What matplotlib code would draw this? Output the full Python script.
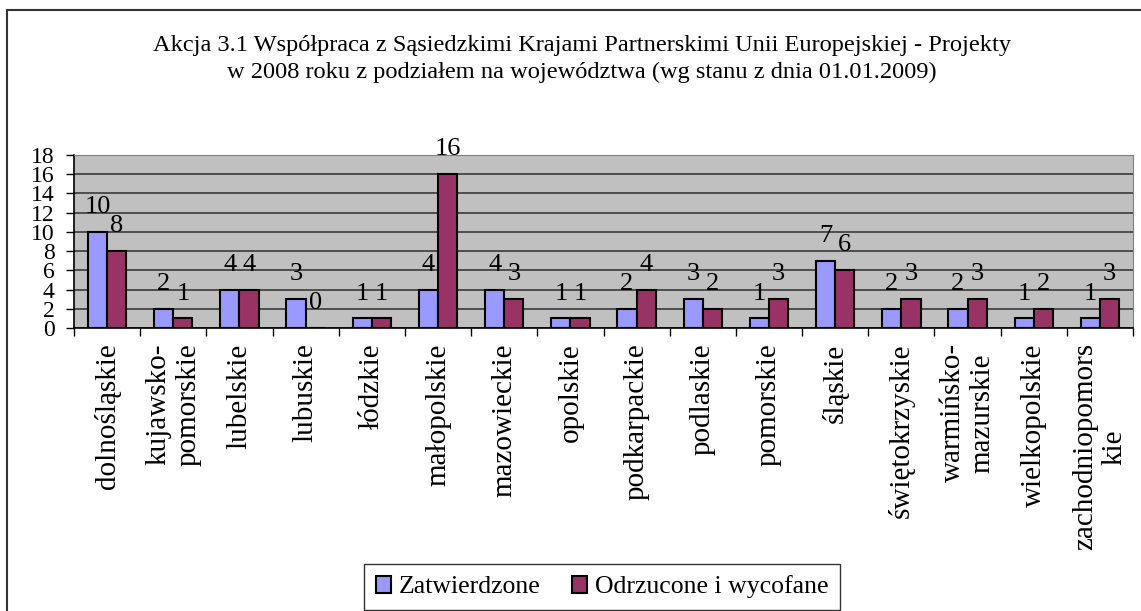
import matplotlib.pyplot as plt
import numpy as np
from matplotlib.lines import Line2D

plt.rcParams['font.family'] = ['Liberation Serif', 'DejaVu Serif']

# data
wojewodztwa = ['dolnośląskie', 'kujawsko-\npomorskie', 'lubelskie', 'lubuskie',
               'łódzkie', 'małopolskie', 'mazowieckie', 'opolskie',
               'podkarpackie', 'podlaskie', 'pomorskie', 'śląskie',
               'świętokrzyskie', 'warmińsko-\nmazurskie', 'wielkopolskie',
               'zachodniopomors\nkie']
zatwierdzone = [10, 2, 4, 3, 1, 4, 4, 1, 2, 3, 1, 7, 2, 2, 1, 1]
odrzucone = [8, 1, 4, 0, 1, 16, 3, 1, 4, 2, 3, 6, 3, 3, 2, 3]
title = ('Akcja 3.1 Współpraca z Sąsiedzkimi Krajami Partnerskimi Unii Europejskiej - Projekty\n'
         'w 2008 roku z podziałem na województwa (wg stanu z dnia 01.01.2009)')

W, H = 1141, 611
fig = plt.figure(figsize=(W / 100, H / 100), dpi=100, facecolor='white')
ax = fig.add_axes([74 / W, 1 - 328 / H, (1133 - 74) / W, (328 - 155) / H])

# outer chart frame (left and top edges visible)
fig.add_artist(Line2D([7 / W, 7 / W], [0, 1 - 10 / H], color='#333333', lw=1.5))
fig.add_artist(Line2D([7 / W, 1], [1 - 10 / H, 1 - 10 / H], color='#333333', lw=1.5))

x = np.arange(len(wojewodztwa))
w = 0.29
b1 = ax.bar(x - w / 2, zatwierdzone, w, color='#9999FF', edgecolor='black',
            linewidth=1.5, label='Zatwierdzone', zorder=3)
b2 = ax.bar(x + w / 2, odrzucone, w, color='#993366', edgecolor='black',
            linewidth=1.5, label='Odrzucone i wycofane', zorder=3)
ax.bar_label(b1, padding=10, fontsize=19)
ax.bar_label(b2, padding=10, fontsize=19)

ax.set_facecolor('#C0C0C0')
ax.set_xlim(-0.5, len(wojewodztwa) - 0.5)
ax.set_ylim(0, 18)
ax.set_yticks(range(0, 19, 2))
ax.yaxis.grid(True, color='#3a3a3a', lw=1.2, zorder=0)
ax.set_axisbelow(True)
ax.tick_params(axis='y', labelsize=17, length=6, width=1, pad=8, direction='out')

ax.set_xticks(x)
ax.set_xticklabels(wojewodztwa, rotation=90, fontsize=21, va='top', ha='center',
                   multialignment='center', linespacing=1.2)
ax.tick_params(axis='x', which='major', length=0, pad=11)
ax.set_xticks(np.arange(-0.5, len(wojewodztwa), 1), minor=True)
ax.tick_params(axis='x', which='minor', length=6, width=1, direction='out')

for s in ['top', 'right']:
    ax.spines[s].set_color('#808080')
for s in ['left', 'bottom']:
    ax.spines[s].set_color('black')
    ax.spines[s].set_linewidth(1.2)

fig.text(582 / W, 1 - 59 / H, title, ha='center', va='center', fontsize=17.6,
         linespacing=1.3)

leg = fig.legend(loc='center', bbox_to_anchor=(602 / W, 1 - 587 / H), ncol=2,
                 fontsize=18.5, frameon=True, fancybox=False, edgecolor='black',
                 handlelength=0.6, handleheight=0.6, handletextpad=0.3,
                 columnspacing=1.2, borderpad=0.45)
leg.get_frame().set_linewidth(1.0)

plt.savefig('out.png', dpi=100)
